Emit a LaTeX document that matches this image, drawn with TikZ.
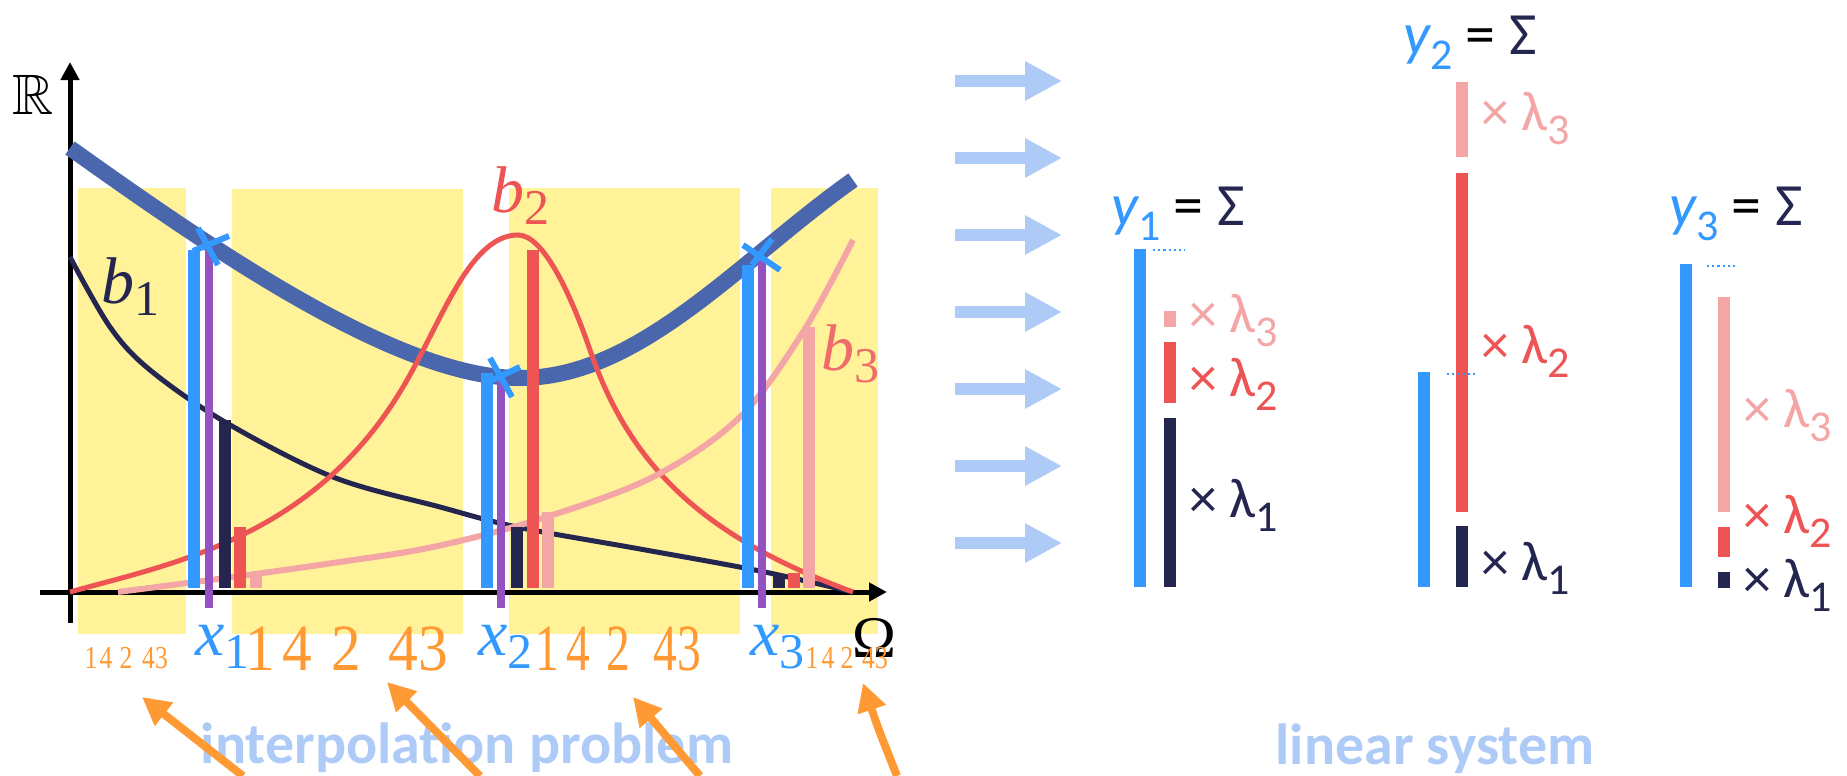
\documentclass[tikz,border=0pt]{standalone}
\usepackage{fontspec}
\usepackage{amssymb}
\usetikzlibrary{arrows.meta}
\setmainfont{Liberation Serif}
\newfontfamily\calib{Carlito}
\definecolor{cblue}{RGB}{51,153,255}
\definecolor{cthick}{RGB}{74,102,173}
\definecolor{cpurple}{RGB}{148,82,192}
\definecolor{cnavy}{RGB}{36,38,80}
\definecolor{cred}{RGB}{238,84,84}
\definecolor{cpink}{RGB}{244,166,166}
\definecolor{csalmon}{RGB}{240,108,108}
\definecolor{cyellow}{RGB}{255,242,153}
\definecolor{corange}{RGB}{255,153,51}
\definecolor{clight}{RGB}{174,203,248}
\newcommand\dsm[1]{\scalebox{0.8}[1]{\fontsize{32}{34}\selectfont #1}}
\newcommand\dbA[1]{\scalebox{0.9}[1]{\fontsize{66}{70}\selectfont #1}}
\newcommand\dbB[1]{\scalebox{0.72}[1]{\fontsize{66}{70}\selectfont #1}}
\newcommand\blabel[1]{{\fontsize{66}{70}\selectfont\itshape b\raisebox{-12pt}{\fontsize{50}{54}\selectfont\upshape #1}}}
\newcommand\xlabel[1]{{\fontsize{66}{70}\selectfont\itshape x\raisebox{-13pt}{\fontsize{50}{54}\selectfont\upshape #1}}}
\newcommand\ylabel[1]{{\calib\fontsize{60}{64}\selectfont\textcolor{cblue}{\itshape y\raisebox{-15pt}{\fontsize{44}{48}\selectfont\upshape #1}} \textcolor{black}{=} \textcolor{cnavy}{Σ}}}
\newcommand\lamlabel[1]{{\calib\fontsize{56}{60}\selectfont × λ\raisebox{-14pt}{\fontsize{44}{48}\selectfont #1}}}
\begin{document}
\begin{tikzpicture}[x=1pt,y=-1pt,
  axis/.style={line width=5pt,black,-{Triangle[length=18pt,width=18pt]}},
  bar/.style={line width=12pt},
  pbar/.style={line width=8pt,cpurple},
  crossline/.style={line width=6pt,cblue},
  dots/.style={cblue,line width=2.2pt,dash pattern=on 2.2pt off 3pt},
  larrow/.style={line width=12pt,clight,-{Triangle[length=37pt,width=37pt]}},
  oarrow/.style={line width=8pt,corange,-{Triangle[length=28pt,width=28pt]}},
  odig/.style={text=corange,inner sep=0pt,anchor=base},
  lab/.style={inner sep=0pt,anchor=base west},
  big/.style={text=clight,inner sep=0pt,anchor=base,font=\calib\bfseries\fontsize{58}{62}\selectfont}]
\useasboundingbox (0,0) rectangle (1847,776);
% yellow regions
\fill[cyellow] (78,188) rectangle (186,634);
\fill[cyellow] (232,189) rectangle (463,634);
\fill[cyellow] (509,188) rectangle (740,634);
\fill[cyellow] (771,188) rectangle (878,634);
% axes
\coordinate (ya0) at (70,623); \coordinate (ya1) at (70,62);
\coordinate (xa0) at (40,592); \coordinate (xa1) at (887,592);
\draw[axis] (ya0) -- (ya1);
\draw[axis] (xa0) -- (xa1);
\node (RR) at (33,95) {\fontsize{57}{60}\selectfont $\mathbb{R}$};
\node (Om) at (874,638) {\fontsize{59}{62}\selectfont Ω};
% thick interpolant
\draw[line width=16pt,cthick] (70,148) .. controls (220,255) and (400,378) .. (520,378) .. controls (640,378) and (740,260) .. (853,180);
% basis functions
\draw[line width=5pt,cnavy] plot[smooth,tension=0.55] coordinates {(70,257) (110,327) (150,370) (225,422) (333,477) (440,507) (517,527) (640,549) (760,571) (853,592)};
\draw[line width=5pt,cred] (70,592) .. controls (170,564) and (310,539) .. (400,392) .. controls (440,327) and (468,235) .. (518,235) .. controls (543,235) and (570,292) .. (590,350) .. controls (630,466) and (703,537) .. (853,592);
\draw[line width=6pt,cpink] plot[smooth,tension=0.55] coordinates {(118,592) (233,577) (333,563) (433,547) (540,519) (653,477) (740,417) (803,332) (853,240)};
\node[lab,text=cnavy] (b1) at (101,303) {\blabel{1}};
\node[lab,text=cred] (b2) at (491,212) {\blabel{2}};
\node[lab,text=csalmon] (b3) at (821,370) {\blabel{3}};
% bars at x1
\draw[bar,cblue] (194,250) -- (194,588);
\draw[bar,cnavy] (225,420) -- (225,588);
\draw[bar,cred] (240,527) -- (240,588);
\draw[bar,cpink] (256,575) -- (256,588);
\draw[pbar] (209,247) -- (209,608);
% bars at x2
\draw[bar,cblue] (487,373) -- (487,588);
\draw[bar,cnavy] (517,527) -- (517,588);
\draw[bar,cred] (533,250) -- (533,588);
\draw[bar,cpink] (548,512) -- (548,588);
\draw[pbar] (501,377) -- (501,608);
% bars at x3
\draw[bar,cblue] (748,265) -- (748,588);
\draw[bar,cnavy] (779,575) -- (779,588);
\draw[bar,cred] (794,573) -- (794,588);
\draw[bar,cpink] (809,327) -- (809,588);
\draw[pbar] (762,257) -- (762,608);
% crosses
\draw[crossline] (198,228) -- (218,265);
\draw[crossline] (193,251) -- (229,236);
\draw[crossline] (490,358) -- (512,397);
\draw[crossline] (486,383) -- (520,367);
\draw[crossline] (743,245) -- (780,270);
\draw[crossline] (772,239) -- (752,265);
% x labels
\node[lab,text=cblue] (x1) at (195,655) {\xlabel{1}};
\node[lab,text=cblue] (x2) at (478,655) {\xlabel{2}};
\node[lab,text=cblue] (x3) at (750,655) {\xlabel{3}};
% orange digits
\node[odig] (s11) at (91,668) {\dsm{1}};
\node[odig] (s14) at (106,668) {\dsm{4}};
\node[odig] (s12) at (126,668) {\dsm{2}};
\node[odig] (s143) at (155,668) {\dsm{43}};
\node[odig] (a1) at (260,670) {\dbA{1}};
\node[odig] (a4) at (297,670) {\dbA{4}};
\node[odig] (a2) at (346,670) {\dbA{2}};
\node[odig] (a43) at (418,670) {\dbA{43}};
\node[odig] (c1) at (547,670) {\dbB{1}};
\node[odig] (c4) at (578,670) {\dbB{4}};
\node[odig] (c2) at (618,670) {\dbB{2}};
\node[odig] (c43) at (677,670) {\dbB{43}};
\node[odig] (s21) at (812,668) {\dsm{1}};
\node[odig] (s24) at (828,668) {\dsm{4}};
\node[odig] (s22) at (847,668) {\dsm{2}};
\node[odig] (s243) at (875,668) {\dsm{43}};
% orange arrows
\coordinate (o1t) at (243,776); \coordinate (o1h) at (142,697);
\coordinate (o2t) at (480,776); \coordinate (o2h) at (387,682);
\coordinate (o3t) at (700,776); \coordinate (o3h) at (633,697);
\coordinate (o4t) at (897,776); \coordinate (o4h) at (863,683);
\node[big] (ip) at (467,763) {interpolation problem};
\draw[oarrow] (o1t) -- (o1h);
\draw[oarrow] (o2t) -- (o2h);
\draw[oarrow] (o3t) -- (o3h);
\draw[oarrow] (o4t) .. controls (878,728) .. (o4h);
% light blue arrows
\foreach \i/\yy in {1/81,2/158,3/235,4/312,5/389,6/466,7/543}{
  \coordinate (ls\i) at (955,\yy); \coordinate (le\i) at (1062,\yy);
  \draw[larrow] (ls\i) -- (le\i);
}
% linear system column 1
\node[lab] (y1) at (1111,225) {\ylabel{1}};
\draw[bar,cblue] (1140,249) -- (1140,587);
\draw[dots] (1153,250) -- (1185,250);
\draw[bar,cpink] (1170,311) -- (1170,327);
\draw[bar,cred] (1170,342) -- (1170,403);
\draw[bar,cnavy] (1170,418) -- (1170,587);
\node[lab,text=cpink] (l13) at (1189,332) {\lamlabel{3}};
\node[lab,text=cred] (l12) at (1189,396) {\lamlabel{2}};
\node[lab,text=cnavy] (l11) at (1189,517) {\lamlabel{1}};
% column 2
\node[lab] (y2) at (1403,55) {\ylabel{2}};
\draw[bar,cblue] (1424,372) -- (1424,587);
\draw[bar,cpink] (1462,82) -- (1462,157);
\draw[bar,cred] (1462,173) -- (1462,512);
\draw[bar,cnavy] (1462,526) -- (1462,587);
\draw[dots] (1447,374) -- (1477,374);
\node[lab,text=cpink] (l23) at (1481,130) {\lamlabel{3}};
\node[lab,text=cred] (l22) at (1481,363) {\lamlabel{2}};
\node[lab,text=cnavy] (l21) at (1481,580) {\lamlabel{1}};
% column 3
\node[lab] (y3) at (1669,225) {\ylabel{3}};
\draw[bar,cblue] (1686,264) -- (1686,587);
\draw[dots] (1707,266) -- (1738,266);
\draw[bar,cpink] (1724,297) -- (1724,512);
\draw[bar,cred] (1724,527) -- (1724,557);
\draw[bar,cnavy] (1724,572) -- (1724,588);
\node[lab,text=cpink] (l33) at (1743,427) {\lamlabel{3}};
\node[lab,text=cred] (l32) at (1743,533) {\lamlabel{2}};
\node[lab,text=cnavy] (l31) at (1743,597) {\lamlabel{1}};
\node[big] (ls) at (1435,764) {linear system};
\end{tikzpicture}
\end{document}
